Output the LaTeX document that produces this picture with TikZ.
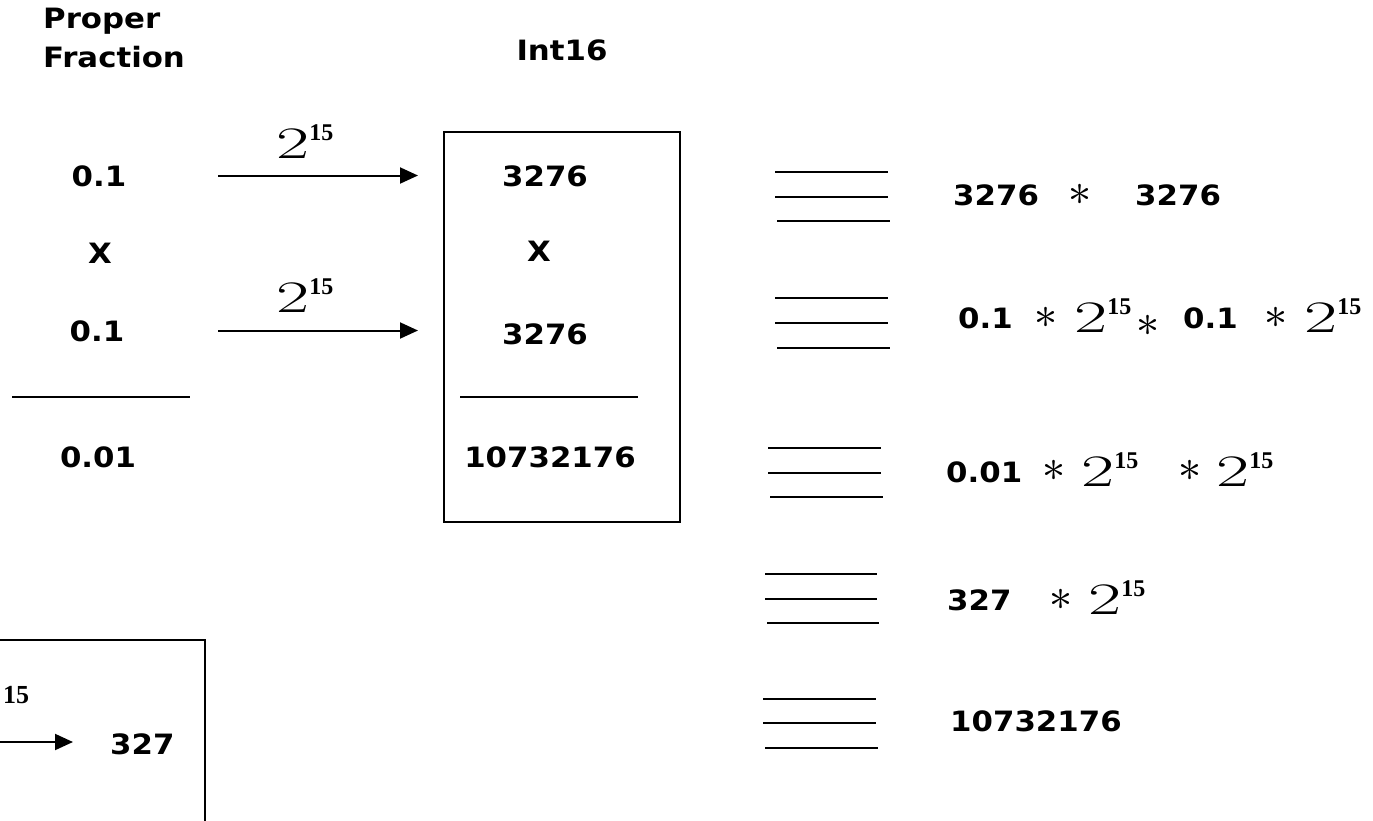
\documentclass[tikz,border=0pt]{standalone}
\usepackage{fontspec}
\usetikzlibrary{arrows.meta}
\newfontfamily\mf[FakeStretch=1.1]{DejaVu Sans}
\newfontfamily\twof[FakeStretch=1.6]{Latin Modern Roman}
\newfontfamily\supf{Liberation Serif}
\newfontfamily\lmm{Latin Modern Math}
\newcommand\pwr{{\twof\fontsize{45}{50}\selectfont 2}\raisebox{18pt}{\supf\bfseries\fontsize{24}{26}\selectfont 15}}
\begin{document}
\begin{tikzpicture}[x=1pt,y=-1pt,
  txt/.style={font=\mf\bfseries\fontsize{28}{32}\selectfont, inner sep=0pt, text height=21pt, text depth=0pt},
  lbl/.style={font=\mf\bfseries\fontsize{28}{32}\selectfont, inner sep=0pt, anchor=base west},
  pw/.style={inner sep=0pt, anchor=base west},
  as/.style={inner sep=0pt, font=\lmm\fontsize{46}{50}\selectfont},
  ln/.style={line width=2.2pt},
  bx/.style={draw, line width=2pt, inner sep=0pt},
  arr/.style={line width=2pt, -{Triangle[length=18pt,width=16pt]}}]
\useasboundingbox (0,0) rectangle (1373,820);
\clip (0,0) rectangle (1373,820);

% headings
\node[lbl] (hp) at (43,28) {Proper};
\node[lbl] (hf) at (43,67) {Fraction};
\node[lbl, anchor=base] (hi) at (562,60) {Int16};

% left column
\node[txt] (f1) at (99,175.5) {0.1};
\node[txt] (fx) at (100,252.5) {X};
\node[txt] (f2) at (97,330.5) {0.1};
\draw[ln] (12,397) -- (190,397);
\node[txt] (f3) at (98,457) {0.01};

% box
\node[bx, minimum width=236pt, minimum height=390pt] (box) at (562,327) {};
\node[txt] (i1) at (545,176) {3276};
\node[txt] (ix) at (539,251) {X};
\node[txt] (i2) at (545,333.5) {3276};
\draw[ln] (460,397) -- (638,397);
\node[txt] (i3) at (550,457) {10732176};

% arrows
\draw[arr, shorten <=119pt, shorten >=25pt] (f1.center) -- (f1.center -| box.west);
\draw[arr, shorten <=121pt, shorten >=25pt] (f2.center) -- (f2.center -| box.west);
\node[pw] (l1) at (276,158) {\pwr};
\node[pw] (l2) at (276,312) {\pwr};

% triple lines
\draw[ln] (775,172) -- (888,172) (775,197) -- (888,197) (777,221) -- (890,221);
\draw[ln] (775,298) -- (888,298) (775,323) -- (888,323) (777,348) -- (890,348);
\draw[ln] (768,448) -- (881,448) (768,473) -- (881,473) (770,497) -- (883,497);
\draw[ln] (765,574) -- (877,574) (765,599) -- (877,599) (767,623) -- (879,623);
\draw[ln] (763,699) -- (876,699) (763,723) -- (876,723) (765,748) -- (878,748);

% right expressions
\node[lbl] (r1a) at (953,205) {3276};
\node[as] (r1s) at (1080,195) {∗};
\node[lbl] (r1b) at (1135,205) {3276};

\node[lbl] (r2a) at (958,328) {0.1};
\node[as] (r2s1) at (1046,318) {∗};
\node[pw] (r2p1) at (1074,332) {\pwr};
\node[as] (r2s2) at (1148,326) {∗};
\node[lbl] (r2b) at (1183,328) {0.1};
\node[as] (r2s3) at (1276,318) {∗};
\node[pw] (r2p2) at (1304,332) {\pwr};

\node[lbl] (r3a) at (946,482) {0.01};
\node[as] (r3s1) at (1054,471) {∗};
\node[pw] (r3p1) at (1081,486) {\pwr};
\node[as] (r3s2) at (1190,471) {∗};
\node[pw] (r3p2) at (1216,486) {\pwr};

\node[lbl] (r4a) at (947,610) {327};
\node[as] (r4s) at (1061,600) {∗};
\node[pw] (r4p) at (1088,614) {\pwr};

\node[lbl] (r5a) at (950,731) {10732176};

% bottom-left partial box
\node[bx, minimum width=305pt, minimum height=260pt] (bb) at (52.5,770) {};
\node[pw, font=\supf\bfseries\fontsize{26}{28}\selectfont] (bl) at (3,703) {15};
\node[lbl] (b327) at (110,754) {327};
\coordinate (bs) at (-20,742);
\draw[arr, shorten >=37pt] (bs) -- (bs -| b327.west);
\end{tikzpicture}
\end{document}
